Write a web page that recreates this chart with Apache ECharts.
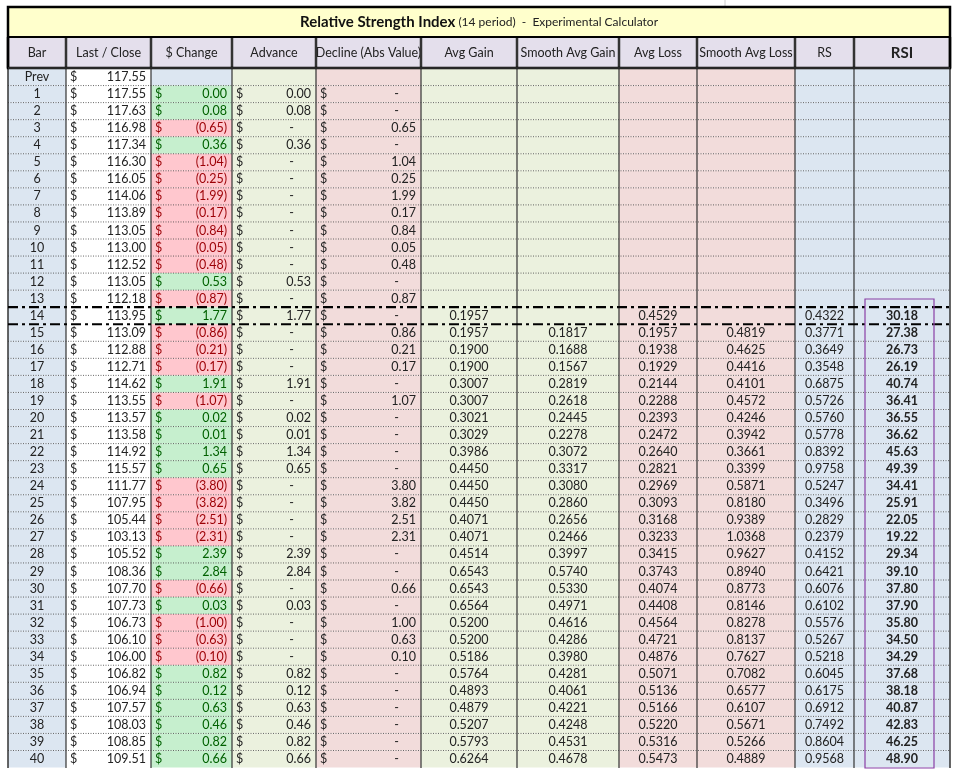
<!DOCTYPE html>
<html><head><meta charset="utf-8">
<script src="https://cdn.jsdelivr.net/npm/echarts@6/dist/echarts.min.js"></script>
<style>html,body{margin:0;padding:0;background:#fff}#c{width:956px;height:775px}</style>
</head><body><div id="c"></div>
<script>
// table data
const bars = ['Prev'];
for (let i = 1; i <= 40; i++) bars.push(String(i));
const closeVals = [117.55,117.55,117.63,116.98,117.34,116.30,116.05,114.06,113.89,113.05,113.00,112.52,113.05,112.18,113.95,113.09,112.88,112.71,114.62,113.55,113.57,113.58,114.92,115.57,111.77,107.95,105.44,103.13,105.52,108.36,107.70,107.73,106.73,106.10,106.00,106.82,106.94,107.57,108.03,108.85,109.51];
const changeVals = [null,0.00,0.08,-0.65,0.36,-1.04,-0.25,-1.99,-0.17,-0.84,-0.05,-0.48,0.53,-0.87,1.77,-0.86,-0.21,-0.17,1.91,-1.07,0.02,0.01,1.34,0.65,-3.80,-3.82,-2.51,-2.31,2.39,2.84,-0.66,0.03,-1.00,-0.63,-0.10,0.82,0.12,0.63,0.46,0.82,0.66];
const avgGain = [.1957,.1957,.1900,.1900,.3007,.3007,.3021,.3029,.3986,.4450,.4450,.4450,.4071,.4071,.4514,.6543,.6543,.6564,.5200,.5200,.5186,.5764,.4893,.4879,.5207,.5793,.6264];
const smoothAvgGain = [null,.1817,.1688,.1567,.2819,.2618,.2445,.2278,.3072,.3317,.3080,.2860,.2656,.2466,.3997,.5740,.5330,.4971,.4616,.4286,.3980,.4281,.4061,.4221,.4248,.4531,.4678];
const avgLoss = [.4529,.1957,.1938,.1929,.2144,.2288,.2393,.2472,.2640,.2821,.2969,.3093,.3168,.3233,.3415,.3743,.4074,.4408,.4564,.4721,.4876,.5071,.5136,.5166,.5220,.5316,.5473];
const smoothAvgLoss = [null,.4819,.4625,.4416,.4101,.4572,.4246,.3942,.3661,.3399,.5871,.8180,.9389,1.0368,.9627,.8940,.8773,.8146,.8278,.8137,.7627,.7082,.6577,.6107,.5671,.5266,.4889];
const rsVals = [.4322,.3771,.3649,.3548,.6875,.5726,.5760,.5778,.8392,.9758,.5247,.3496,.2829,.2379,.4152,.6421,.6076,.6102,.5576,.5267,.5218,.6045,.6175,.6912,.7492,.8604,.9568];
const rsiVals = [30.18,27.38,26.73,26.19,40.74,36.41,36.55,36.62,45.63,49.39,34.41,25.91,22.05,19.22,29.34,39.10,37.80,37.90,35.80,34.50,34.29,37.68,38.18,40.87,42.83,46.25,48.90];
const headers = ['Bar','Last / Close','$ Change','Advance','Decline (Abs Value)','Avg Gain','Smooth Avg Gain','Avg Loss','Smooth Avg Loss','RS','RSI'];

// layout
const edges = [8,66,151,232,316,421,517,619,697,795,854,950];
const rowTop = 68.5, rowH = 17.05;
const BLUE = '#dce6f1', GREEN = '#ebf1de', PINK = '#f2dcdb';
const colFill = [BLUE,'#ffffff',BLUE,GREEN,PINK,GREEN,GREEN,PINK,PINK,BLUE,BLUE];
const FONT = 'Lato, "Open Sans", sans-serif';

const fmt2 = v => Math.abs(v).toFixed(2);
const cells = [];
function add(col,row,text,opt){ cells.push(Object.assign({col,row,text},opt||{})); }
for (let r = 0; r <= 40; r++) {
  add(0,r,bars[r],{align:'center'});
  add(1,r,closeVals[r].toFixed(2),{dollar:true});
  const c = changeVals[r];
  if (c === null) add(2,r,'',{});
  else {
    const neg = c < 0;
    add(2,r,neg ? '(' + fmt2(c) + ')' : c.toFixed(2),{dollar:true,fill:neg?'#ffc7ce':'#c6efce',color:neg?'#9c0006':'#006100'});
  }
  if (r === 0) { add(3,r,'',{}); add(4,r,'',{}); }
  else {
    add(3,r,c > 0 || (c === 0) ? c.toFixed(2) : '-',{dollar:true,dash:!(c>=0)});
    add(4,r,c < 0 ? fmt2(c) : '-',{dollar:true,dash:!(c<0)});
  }
  const k = r - 14;
  const pick = a => (k >= 0 && a[k] !== null && a[k] !== undefined) ? a[k] : null;
  const g = pick(avgGain), sg = pick(smoothAvgGain), l = pick(avgLoss), sl = pick(smoothAvgLoss), rs = pick(rsVals), rsi = pick(rsiVals);
  add(5,r,g===null?'':g.toFixed(4),{align:'center'});
  add(6,r,sg===null?'':sg.toFixed(4),{align:'center'});
  add(7,r,l===null?'':l.toFixed(4),{align:'center'});
  add(8,r,sl===null?'':sl.toFixed(4),{align:'center'});
  add(9,r,rs===null?'':rs.toFixed(4),{align:'center'});
  add(10,r,rsi===null?'':rsi.toFixed(2),{align:'center',bold:true});
}

function renderCell(params, api) {
  const c = cells[api.value(2)];
  const p0 = api.coord([edges[c.col], rowTop + c.row*rowH]);
  const p1 = api.coord([edges[c.col+1], rowTop + (c.row+1)*rowH]);
  const w = p1[0]-p0[0], h = p1[1]-p0[1], cy = p0[1]+h/2;
  let fill = c.fill || colFill[c.col];
  if (c.row === 0 && c.col === 2) fill = BLUE;
  const kids = [{type:'rect',shape:{x:p0[0],y:p0[1],width:w,height:h},style:{fill:fill}}];
  const col = c.color || '#222';
  if (c.dollar) kids.push({type:'text',style:{x:p0[0]+4,y:cy,text:'$',fill:col,font:'12.5px '+FONT,verticalAlign:'middle'}});
  if (c.text) {
    let x = p1[0]-5, align = 'right';
    if (c.align === 'center') { x = p0[0]+w/2; align = 'center'; }
    if (c.dash) x = p1[0]-22;
    kids.push({type:'text',style:{x:x,y:cy,text:c.text,fill:col,align:align,verticalAlign:'middle',
      font:(c.bold?'bold ':'')+'12.5px '+FONT}});
  }
  return {type:'group',children:kids};
}

// frame lines
const gfx = [];
gfx.push({type:'rect',shape:{x:8,y:7,width:942,height:29},style:{fill:'#ffffcc'},z:1});
gfx.push({type:'rect',shape:{x:8,y:37,width:942,height:31},style:{fill:'#e4dfec'},z:1});
gfx.push({type:'text',style:{x:479,y:22,rich:{a:{font:'bold 15px '+FONT,fill:'#111'},b:{font:'12px '+FONT,fill:'#222'}},
  text:'{a|Relative Strength Index}{b| (14 period)  -  Experimental Calculator}',align:'center',verticalAlign:'middle'},z:5});
headers.forEach((h,i)=>{
  gfx.push({type:'text',style:{x:(edges[i]+edges[i+1])/2,y:53,text:h,align:'center',verticalAlign:'middle',
    font:(i===10?'bold 15px ':'12.5px ')+FONT,fill:'#222'},z:5});
});
for (let r = 1; r <= 40; r++) {
  const y = rowTop + r*rowH;
  if (r === 14 || r === 15) {
    gfx.push({type:'line',shape:{x1:8,y1:y,x2:950,y2:y},style:{stroke:'#000',lineWidth:2.2,lineDash:[10,4,3,4]},z:6});
  } else {
    gfx.push({type:'line',shape:{x1:8,y1:y,x2:950,y2:y},style:{stroke:'#444',lineWidth:0.8,lineDash:[1,1.5]},z:4});
  }
}
edges.forEach((x,i)=>{
  const outer = i===0 || i===edges.length-1;
  gfx.push({type:'line',shape:{x1:x,y1:37,x2:x,y2:68},style:{stroke:'#333',lineWidth:2.5},z:5});
  gfx.push({type:'line',shape:{x1:x,y1:68,x2:x,y2:768},style:{stroke:'#333',lineWidth:outer?1.5:1.2},z:5});
});
gfx.push({type:'rect',shape:{x:8,y:7,width:942,height:61},style:{fill:null,stroke:'#000',lineWidth:2.5},z:6});
gfx.push({type:'line',shape:{x1:8,y1:37,x2:950,y2:37},style:{stroke:'#000',lineWidth:2},z:6});
gfx.push({type:'line',shape:{x1:8,y1:68,x2:950,y2:68},style:{stroke:'#333',lineWidth:1.5},z:6});
gfx.push({type:'rect',shape:{x:865,y:299,width:69,height:469},style:{fill:null,stroke:'#8a3fa6',lineWidth:1.2},z:7});
gfx.push({type:'line',shape:{x1:725,y1:0,x2:725,y2:7},style:{stroke:'#ccc',lineWidth:1},z:1});

const chart = echarts.init(document.getElementById('c'));
chart.setOption({
  animation:false,
  grid:{left:0,top:0,width:956,height:775},
  xAxis:{type:'value',min:0,max:956,show:false},
  yAxis:{type:'value',min:0,max:775,inverse:true,show:false},
  graphic:gfx,
  series:[{type:'custom',renderItem:renderCell,z:2,
    data:cells.map((c,i)=>[c.col,c.row,i])}]
});
</script></body></html>
